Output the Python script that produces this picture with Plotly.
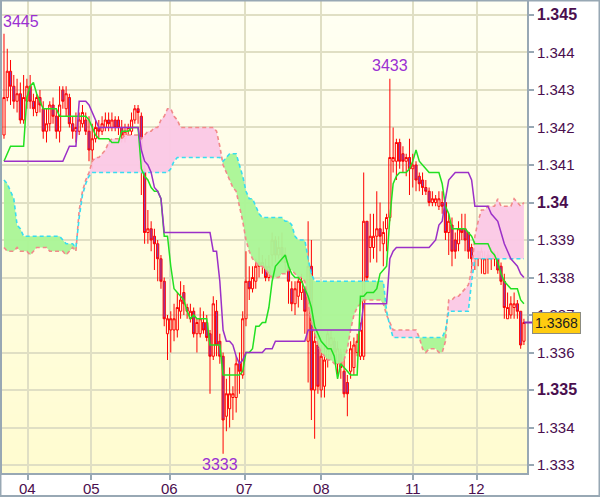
import plotly.graph_objects as go

# ---------------- data (hourly candles, index 0..159) ----------------
opens = [1.3418, 1.3428, 1.3435, 1.3431, 1.3427, 1.3429, 1.3422, 1.3427, 1.3431, 1.3427,
         1.3424, 1.3428, 1.3425, 1.3419, 1.3421, 1.3426, 1.3423, 1.3419, 1.3430, 1.3425,
         1.3428, 1.3421, 1.3419, 1.3419, 1.3421, 1.3422, 1.3419, 1.3414, 1.3417, 1.3420,
         1.3419, 1.3420, 1.3422, 1.3420, 1.3422, 1.3422, 1.3420, 1.3417, 1.3419, 1.3419,
         1.3422, 1.3425, 1.3423, 1.3409, 1.3392, 1.3393, 1.3391, 1.3389, 1.3385, 1.3379,
         1.3365, 1.3366, 1.3366, 1.3366, 1.3371, 1.3376, 1.3372, 1.3369, 1.3371, 1.3365,
         1.3365, 1.3368, 1.3368, 1.3365, 1.3359, 1.3371, 1.3363, 1.3359, 1.3343, 1.3345,
         1.3348, 1.3348, 1.3357, 1.3354, 1.3369, 1.3379, 1.3377, 1.3379, 1.3384, 1.3383,
         1.3383, 1.3380, 1.3386, 1.3390, 1.3386, 1.3388, 1.3386, 1.3383, 1.3377, 1.3373,
         1.3375, 1.3376, 1.3377, 1.3363, 1.3383, 1.3350, 1.3362, 1.3350, 1.3351, 1.3358,
         1.3362, 1.3363, 1.3357, 1.3360, 1.3355, 1.3352, 1.3355, 1.3356, 1.3360, 1.3359,
         1.3359, 1.3395, 1.3388, 1.3388, 1.3391, 1.3393, 1.3389, 1.3393, 1.3396, 1.3411,
         1.3411, 1.3416, 1.3413, 1.3411, 1.3412, 1.3409, 1.3410, 1.3407, 1.3406, 1.3404,
         1.3403, 1.3400, 1.3400, 1.3399, 1.3400, 1.3400, 1.3392, 1.3394, 1.3390, 1.3389,
         1.3393, 1.3393, 1.3392, 1.3388, 1.3385, 1.3387, 1.3385, 1.3381, 1.3386, 1.3385,
         1.3386, 1.3385, 1.3383, 1.3379, 1.3369, 1.3370, 1.3372, 1.3373, 1.3371, 1.3363]

highs = [1.3445, 1.3441, 1.3438, 1.3434, 1.3433, 1.3432, 1.3434, 1.3433, 1.3434, 1.3429,
         1.3429, 1.3430, 1.3427, 1.3425, 1.3427, 1.3428, 1.3425, 1.3431, 1.3431, 1.3431,
         1.3429, 1.3423, 1.3424, 1.3424, 1.3426, 1.3424, 1.3423, 1.3421, 1.3422, 1.3422,
         1.3423, 1.3424, 1.3424, 1.3424, 1.3423, 1.3423, 1.3422, 1.3421, 1.3421, 1.3424,
         1.3426, 1.3426, 1.3424, 1.3410, 1.3398, 1.3395, 1.3393, 1.3390, 1.3386, 1.3380,
         1.3370, 1.3371, 1.3373, 1.3376, 1.3379, 1.3378, 1.3373, 1.3373, 1.3372, 1.3369,
         1.3372, 1.3371, 1.3370, 1.3366, 1.3375, 1.3374, 1.3365, 1.3360, 1.3353, 1.3356,
         1.3351, 1.3359, 1.3360, 1.3371, 1.3387, 1.3383, 1.3383, 1.3385, 1.3388, 1.3386,
         1.3385, 1.3386, 1.3392, 1.3391, 1.3391, 1.3392, 1.3388, 1.3384, 1.3379, 1.3379,
         1.3380, 1.3381, 1.3377, 1.3395, 1.3390, 1.3367, 1.3364, 1.3362, 1.3362, 1.3366,
         1.3366, 1.3364, 1.3363, 1.3361, 1.3361, 1.3354, 1.3363, 1.3364, 1.3365, 1.3368,
         1.3408, 1.3395, 1.3397, 1.3397, 1.3403, 1.3400, 1.3395, 1.3397, 1.3433, 1.3420,
         1.3417, 1.3417, 1.3415, 1.3413, 1.3417, 1.3413, 1.3411, 1.3408, 1.3408, 1.3406,
         1.3404, 1.3403, 1.3402, 1.3403, 1.3403, 1.3400, 1.3397, 1.3396, 1.3392, 1.3395,
         1.3397, 1.3397, 1.3392, 1.3389, 1.3388, 1.3387, 1.3388, 1.3387, 1.3387, 1.3388,
         1.3387, 1.3387, 1.3384, 1.3381, 1.3376, 1.3375, 1.3376, 1.3374, 1.3371, 1.3369]

lows = [1.3417, 1.3427, 1.3426, 1.3425, 1.3424, 1.3421, 1.3421, 1.3425, 1.3425, 1.3423,
        1.3423, 1.3424, 1.3417, 1.3416, 1.3419, 1.3421, 1.3417, 1.3416, 1.3425, 1.3423,
        1.3420, 1.3417, 1.3416, 1.3418, 1.3420, 1.3418, 1.3411, 1.3409, 1.3416, 1.3417,
        1.3418, 1.3419, 1.3419, 1.3419, 1.3419, 1.3418, 1.3416, 1.3416, 1.3418, 1.3418,
        1.3421, 1.3421, 1.3402, 1.3389, 1.3389, 1.3387, 1.3382, 1.3379, 1.3377, 1.3367,
        1.3358, 1.3360, 1.3363, 1.3364, 1.3369, 1.3370, 1.3369, 1.3368, 1.3364, 1.3360,
        1.3364, 1.3365, 1.3363, 1.3349, 1.3358, 1.3359, 1.3357, 1.3333, 1.3339, 1.3340,
        1.3342, 1.3344, 1.3349, 1.3353, 1.3367, 1.3374, 1.3376, 1.3377, 1.3380, 1.3381,
        1.3379, 1.3379, 1.3383, 1.3384, 1.3385, 1.3384, 1.3382, 1.3373, 1.3371, 1.3370,
        1.3372, 1.3374, 1.3365, 1.3352, 1.3342, 1.3337, 1.3349, 1.3348, 1.3348, 1.3356,
        1.3358, 1.3358, 1.3353, 1.3353, 1.3348, 1.3343, 1.3353, 1.3354, 1.3359, 1.3358,
        1.3358, 1.3379, 1.3384, 1.3385, 1.3384, 1.3387, 1.3383, 1.3387, 1.3395, 1.3408,
        1.3406, 1.3409, 1.3408, 1.3407, 1.3402, 1.3404, 1.3403, 1.3403, 1.3402, 1.3402,
        1.3399, 1.3399, 1.3399, 1.3398, 1.3397, 1.3390, 1.3386, 1.3383, 1.3385, 1.3387,
        1.3390, 1.3387, 1.3385, 1.3382, 1.3382, 1.3383, 1.3381, 1.3381, 1.3381, 1.3382,
        1.3383, 1.3381, 1.3378, 1.3369, 1.3369, 1.3369, 1.3369, 1.3369, 1.3361, 1.3362]

closes = [1.3428, 1.3435, 1.3431, 1.3427, 1.3429, 1.3422, 1.3428, 1.3431, 1.3427, 1.3425,
          1.3428, 1.3426, 1.3419, 1.3421, 1.3426, 1.3423, 1.3419, 1.3426, 1.3427, 1.3429,
          1.3421, 1.3419, 1.3420, 1.3422, 1.3424, 1.3419, 1.3414, 1.3417, 1.3420, 1.3419,
          1.3421, 1.3422, 1.3421, 1.3422, 1.3420, 1.3420, 1.3418, 1.3419, 1.3420, 1.3422,
          1.3425, 1.3424, 1.3409, 1.3392, 1.3393, 1.3390, 1.3389, 1.3385, 1.3379, 1.3369,
          1.3369, 1.3369, 1.3369, 1.3372, 1.3374, 1.3373, 1.3371, 1.3371, 1.3365, 1.3368,
          1.3369, 1.3366, 1.3364, 1.3359, 1.3373, 1.3362, 1.3359, 1.3342, 1.3349, 1.3349,
          1.3349, 1.3357, 1.3355, 1.3369, 1.3379, 1.3377, 1.3380, 1.3383, 1.3383, 1.3384,
          1.3380, 1.3383, 1.3390, 1.3386, 1.3388, 1.3386, 1.3384, 1.3379, 1.3373, 1.3377,
          1.3379, 1.3379, 1.3371, 1.3383, 1.3350, 1.3363, 1.3351, 1.3359, 1.3358, 1.3365,
          1.3364, 1.3360, 1.3361, 1.3356, 1.3349, 1.3349, 1.3361, 1.3362, 1.3363, 1.3366,
          1.3395, 1.3380, 1.3391, 1.3391, 1.3393, 1.3391, 1.3392, 1.3396, 1.3412, 1.3412,
          1.3416, 1.3411, 1.3411, 1.3412, 1.3409, 1.3410, 1.3406, 1.3405, 1.3404, 1.3403,
          1.3400, 1.3401, 1.3401, 1.3401, 1.3399, 1.3392, 1.3395, 1.3387, 1.3387, 1.3393,
          1.3392, 1.3390, 1.3387, 1.3385, 1.3386, 1.3385, 1.3387, 1.3385, 1.3385, 1.3386,
          1.3385, 1.3382, 1.3379, 1.3372, 1.3372, 1.3373, 1.3373, 1.3371, 1.3362, 1.3368]

tenkan = [1.3411, 1.3413, 1.3415, 1.3415, 1.3415, 1.3415, 1.3415, 1.3428, 1.3431, 1.3432,
          1.3429, 1.3427, 1.3425, 1.3425, 1.3425, 1.3425, 1.3425, 1.3423, 1.3423, 1.3423,
          1.3423, 1.3423, 1.3423, 1.3423, 1.3423, 1.3423, 1.3422, 1.3420, 1.3418, 1.3417,
          1.3417, 1.3417, 1.3417, 1.3416, 1.3416, 1.3416, 1.3419, 1.3419, 1.3419, 1.3420,
          1.3420, 1.3420, 1.3409, 1.3407, 1.3406, 1.3404, 1.3403, 1.3403, 1.3401, 1.3391,
          1.3391, 1.3383, 1.3377, 1.3376, 1.3375, 1.3374, 1.3371, 1.3369, 1.3370, 1.3369,
          1.3369, 1.3369, 1.3369, 1.3362, 1.3362, 1.3362, 1.3362, 1.3354, 1.3354, 1.3354,
          1.3354, 1.3354, 1.3354, 1.3355, 1.3360, 1.3360, 1.3361, 1.3367, 1.3367, 1.3368,
          1.3368, 1.3372, 1.3379, 1.3383, 1.3384, 1.3385, 1.3386, 1.3383, 1.3381, 1.3380,
          1.3380, 1.3379, 1.3377, 1.3375, 1.3372, 1.3367, 1.3365, 1.3363, 1.3362, 1.3361,
          1.3361, 1.3359, 1.3353, 1.3357, 1.3356, 1.3355, 1.3354, 1.3354, 1.3354, 1.3375,
          1.3375, 1.3376, 1.3376, 1.3376, 1.3377, 1.3381, 1.3382, 1.3383, 1.3396, 1.3405,
          1.3407, 1.3408, 1.3408, 1.3408, 1.3409, 1.3411, 1.3414, 1.3411, 1.3410, 1.3409,
          1.3408, 1.3408, 1.3408, 1.3408, 1.3405, 1.3399, 1.3397, 1.3393, 1.3393, 1.3393,
          1.3393, 1.3393, 1.3392, 1.3391, 1.3389, 1.3389, 1.3389, 1.3389, 1.3389, 1.3387,
          1.3386, 1.3384, 1.3381, 1.3379, 1.3378, 1.3377, 1.3377, 1.3377, 1.3374, 1.3373]

kijun = [1.3411, 1.3411, 1.3411, 1.3411, 1.3411, 1.3411, 1.3411, 1.3411, 1.3411, 1.3411,
         1.3411, 1.3411, 1.3411, 1.3411, 1.3411, 1.3411, 1.3411, 1.3411, 1.3411, 1.3413,
         1.3415, 1.3415, 1.3415, 1.3427, 1.3427, 1.3427, 1.3426, 1.3424, 1.3422, 1.3420,
         1.3420, 1.3420, 1.3420, 1.3420, 1.3420, 1.3420, 1.3420, 1.3420, 1.3420, 1.3420,
         1.3420, 1.3420, 1.3414, 1.3411, 1.3410, 1.3408, 1.3404, 1.3403, 1.3401, 1.3392,
         1.3392, 1.3392, 1.3392, 1.3392, 1.3392, 1.3392, 1.3392, 1.3392, 1.3392, 1.3392,
         1.3392, 1.3392, 1.3392, 1.3392, 1.3387, 1.3387, 1.3379, 1.3366, 1.3363, 1.3363,
         1.3362, 1.3359, 1.3357, 1.3358, 1.3360, 1.3360, 1.3360, 1.3360, 1.3360, 1.3360,
         1.3361, 1.3361, 1.3361, 1.3363, 1.3363, 1.3363, 1.3363, 1.3363, 1.3363, 1.3363,
         1.3363, 1.3363, 1.3363, 1.3366, 1.3366, 1.3366, 1.3366, 1.3366, 1.3366, 1.3366,
         1.3366, 1.3366, 1.3366, 1.3366, 1.3366, 1.3366, 1.3366, 1.3366, 1.3366, 1.3366,
         1.3373, 1.3373, 1.3373, 1.3373, 1.3373, 1.3373, 1.3373, 1.3373, 1.3385, 1.3387,
         1.3388, 1.3388, 1.3388, 1.3388, 1.3388, 1.3388, 1.3388, 1.3388, 1.3388, 1.3388,
         1.3388, 1.3389, 1.3390, 1.3394, 1.3395, 1.3401, 1.3406, 1.3407, 1.3408, 1.3408,
         1.3408, 1.3408, 1.3408, 1.3406, 1.3399, 1.3399, 1.3399, 1.3399, 1.3399, 1.3397,
         1.3396, 1.3395, 1.3392, 1.3389, 1.3387, 1.3385, 1.3384, 1.3383, 1.3381, 1.3380]

span_a = [1.3406, 1.3405, 1.3403, 1.3401, 1.3394, 1.3393, 1.3391, 1.3391, 1.3391, 1.3391,
          1.3391, 1.3391, 1.3391, 1.3391, 1.3391, 1.3391, 1.3391, 1.3391, 1.3390, 1.3389,
          1.3389, 1.3389, 1.3388, 1.3396, 1.3402, 1.3405, 1.3407, 1.3408, 1.3408, 1.3408,
          1.3408, 1.3408, 1.3408, 1.3408, 1.3408, 1.3408, 1.3408, 1.3408, 1.3408, 1.3408,
          1.3408, 1.3408, 1.3408, 1.3408, 1.3408, 1.3408, 1.3408, 1.3408, 1.3408, 1.3408,
          1.3408, 1.3409, 1.3411, 1.3412, 1.3412, 1.3412, 1.3412, 1.3412, 1.3412, 1.3412,
          1.3412, 1.3412, 1.3412, 1.3412, 1.3412, 1.3412, 1.3412, 1.3411, 1.3412, 1.3413,
          1.3413, 1.3413, 1.3410, 1.3407, 1.3403, 1.3401, 1.3401, 1.3399, 1.3397, 1.3396,
          1.3396, 1.3396, 1.3396, 1.3396, 1.3396, 1.3396, 1.3395, 1.3395, 1.3394, 1.3391,
          1.3390, 1.3390, 1.3390, 1.3385, 1.3381, 1.3379, 1.3379, 1.3379, 1.3379, 1.3379,
          1.3379, 1.3379, 1.3379, 1.3379, 1.3379, 1.3379, 1.3379, 1.3379, 1.3379, 1.3379,
          1.3379, 1.3379, 1.3379, 1.3379, 1.3379, 1.3379, 1.3379, 1.3371, 1.3367, 1.3364,
          1.3364, 1.3364, 1.3364, 1.3364, 1.3364, 1.3364, 1.3364, 1.3364, 1.3364, 1.3364,
          1.3364, 1.3364, 1.3364, 1.3364, 1.3364, 1.3366, 1.3371, 1.3371, 1.3371, 1.3371,
          1.3371, 1.3371, 1.3371, 1.3379, 1.3385, 1.3385, 1.3385, 1.3385, 1.3385, 1.3385,
          1.3385, 1.3385, 1.3385, 1.3385, 1.3385, 1.3385, 1.3385, 1.3385, 1.3385, 1.3385]

span_b = [1.3388, 1.3387, 1.3387, 1.3387, 1.3388, 1.3387, 1.3387, 1.3387, 1.3386, 1.3387,
          1.3388, 1.3388, 1.3388, 1.3388, 1.3387, 1.3387, 1.3387, 1.3387, 1.3387, 1.3386,
          1.3387, 1.3388, 1.3387, 1.3398, 1.3403, 1.3406, 1.3408, 1.3411, 1.3412, 1.3412,
          1.3413, 1.3414, 1.3416, 1.3417, 1.3417, 1.3417, 1.3417, 1.3418, 1.3418, 1.3418,
          1.3418, 1.3418, 1.3417, 1.3418, 1.3419, 1.3419, 1.3420, 1.3420, 1.3422, 1.3423,
          1.3425, 1.3425, 1.3423, 1.3422, 1.3420, 1.3420, 1.3420, 1.3420, 1.3420, 1.3420,
          1.3420, 1.3420, 1.3420, 1.3420, 1.3420, 1.3419, 1.3415, 1.3410, 1.3408, 1.3406,
          1.3404, 1.3403, 1.3399, 1.3395, 1.3390, 1.3387, 1.3385, 1.3384, 1.3383, 1.3383,
          1.3382, 1.3381, 1.3380, 1.3380, 1.3380, 1.3381, 1.3381, 1.3382, 1.3382, 1.3381,
          1.3380, 1.3380, 1.3379, 1.3373, 1.3368, 1.3365, 1.3362, 1.3360, 1.3359, 1.3358,
          1.3358, 1.3357, 1.3357, 1.3357, 1.3358, 1.3361, 1.3366, 1.3370, 1.3372, 1.3373,
          1.3374, 1.3374, 1.3374, 1.3374, 1.3374, 1.3374, 1.3373, 1.3370, 1.3368, 1.3366,
          1.3366, 1.3366, 1.3366, 1.3366, 1.3366, 1.3366, 1.3366, 1.3364, 1.3361, 1.3360,
          1.3361, 1.3361, 1.3361, 1.3360, 1.3360, 1.3363, 1.3374, 1.3374, 1.3375, 1.3375,
          1.3376, 1.3377, 1.3378, 1.3382, 1.3391, 1.3395, 1.3398, 1.3398, 1.3399, 1.3399,
          1.3399, 1.3401, 1.3399, 1.3399, 1.3399, 1.3399, 1.3401, 1.3400, 1.3399, 1.3400]

day_labels = ["04", "05", "06", "07", "08", "11", "12"]
day_pos = [7.3, 26.7, 50.7, 73.6, 97.0, 125.0, 144.5]

price_ticks = [1.333, 1.334, 1.335, 1.336, 1.337, 1.338, 1.339, 1.340,
               1.341, 1.342, 1.343, 1.344, 1.345]
BIG = "<span style='font-size:16px'><b>%s</b></span>"
price_labels = ["1.333", "1.334", BIG % "1.335", "1.336", "1.337", "1.338", "1.339",
                BIG % "1.34", "1.341", "1.342", "1.343", "1.344", BIG % "1.345"]

last_price = 1.3368
high_label, high_idx, high_val = "3445", 0, 1.3445
high2_label, high2_idx, high2_val = "3433", 118, 1.3433
low_label, low_idx, low_val = "3333", 67, 1.3333

# ---------------- styling ----------------
AX = "#98A8B4"
GRID = "#E0DFC4"
TXT = "#4A0E4E"
MARK = "#9A30D2"
FONT = "Liberation Sans, Arial, sans-serif"
GREEN_FILL = "rgba(170,245,150,0.95)"
PINK_FILL = "rgba(251,200,230,0.95)"

idx = list(range(len(opens)))
fig = go.Figure()


def cloud_segments(x, a, b):
    segs = []
    cx, ca, cb = [x[0]], [a[0]], [b[0]]
    up = a[0] >= b[0]
    for k in range(1, len(x)):
        s = a[k] >= b[k]
        if s != up:
            d0 = a[k - 1] - b[k - 1]
            d1 = a[k] - b[k]
            t = d0 / (d0 - d1)
            xi = x[k - 1] + t * (x[k] - x[k - 1])
            yi = a[k - 1] + t * (a[k] - a[k - 1])
            cx.append(xi); ca.append(yi); cb.append(yi)
            segs.append((cx, ca, cb, up))
            cx, ca, cb = [xi], [yi], [yi]
            up = s
        cx.append(x[k]); ca.append(a[k]); cb.append(b[k])
    segs.append((cx, ca, cb, up))
    return segs


for sx, sa, sb, up in cloud_segments(idx, span_a, span_b):
    fig.add_trace(go.Scatter(x=sx + sx[::-1], y=sa + sb[::-1], mode="lines",
                             fill="toself", fillcolor=GREEN_FILL if up else PINK_FILL,
                             line=dict(width=0), hoverinfo="skip", showlegend=False))

fig.add_trace(go.Scatter(x=idx, y=span_b, mode="lines",
                         line=dict(color="#F28A8A", width=1.6, dash="4px,3px"),
                         hoverinfo="skip", showlegend=False))
fig.add_trace(go.Scatter(x=idx, y=span_a, mode="lines",
                         line=dict(color="#38DDF0", width=1.6, dash="4px,3px"),
                         hoverinfo="skip", showlegend=False))

fig.add_trace(go.Candlestick(
    x=idx, open=opens, high=highs, low=lows, close=closes,
    increasing=dict(line=dict(color="#FF0000", width=1), fillcolor="rgba(0,0,0,0)"),
    decreasing=dict(line=dict(color="#FF0000", width=1), fillcolor="#8A3CB4"),
    whiskerwidth=0, hoverinfo="skip", showlegend=False))

fig.add_trace(go.Scatter(x=idx, y=tenkan, mode="lines",
                         line=dict(color="#22E022", width=1.5),
                         hoverinfo="skip", showlegend=False))
fig.add_trace(go.Scatter(x=idx, y=kijun, mode="lines",
                         line=dict(color="#9B30C8", width=1.5),
                         hoverinfo="skip", showlegend=False))

# background gradient bands (below grid)
shapes = []
nb = 40
top_c = (255, 255, 243)
bot_c = (255, 252, 208)
for k in range(nb):
    t = (k + 0.5) / nb
    c = tuple(round(bot_c[j] + (top_c[j] - bot_c[j]) * t) for j in range(3))
    shapes.append(dict(type="rect", xref="paper", yref="paper", x0=0, x1=1,
                       y0=k / nb, y1=(k + 1) / nb + 0.002, layer="below",
                       line=dict(width=0), fillcolor="rgb(%d,%d,%d)" % c))
# outer frame
shapes.append(dict(type="rect", xref="paper", yref="paper",
                   x0=-0.0029, x1=1.1381, y0=-0.0487, y1=1.0011,
                   line=dict(color=AX, width=2), fillcolor="rgba(0,0,0,0)"))
# price pointer
shapes.append(dict(type="line", xref="paper", yref="y", x0=0.994, x1=1.0095,
                   y0=last_price, y1=last_price, line=dict(color="#8A2CB0", width=2)))

annotations = [
    dict(text=high_label, x=high_idx, y=high_val, xref="x", yref="y",
         xanchor="left", yanchor="bottom", xshift=-3, yshift=2, showarrow=False,
         font=dict(family=FONT, size=16, color=MARK)),
    dict(text=high2_label, x=high2_idx, y=high2_val, xref="x", yref="y",
         xanchor="center", yanchor="bottom", yshift=3, showarrow=False,
         font=dict(family=FONT, size=16, color=MARK)),
    dict(text=low_label, x=low_idx, y=0, xref="x", yref="paper",
         xanchor="center", yanchor="bottom", xshift=-3, yshift=-2, showarrow=False,
         font=dict(family=FONT, size=16, color=MARK)),
    dict(text=str(last_price), x=1.0095, y=last_price, xref="paper", yref="y",
         xanchor="left", yanchor="middle", showarrow=False,
         bgcolor="#FFCC10", bordercolor="#8C8C80", borderwidth=1, borderpad=2,
         font=dict(family=FONT, size=14, color="#202020")),
]
# day labels under the x axis
for pos, lab in zip(day_pos, day_labels):
    annotations.append(dict(text=lab, x=pos, y=0, xref="x", yref="paper",
                            xanchor="center", yanchor="top", yshift=-5,
                            showarrow=False,
                            font=dict(family=FONT, size=15, color=TXT)))

fig.update_layout(
    width=600, height=497,
    margin=dict(l=2, r=73, t=1, b=24, autoexpand=False),
    paper_bgcolor="white", plot_bgcolor="rgba(0,0,0,0)",
    showlegend=False, hovermode=False, boxgap=0.05,
    shapes=shapes, annotations=annotations,
    font=dict(family=FONT, color=TXT),
    xaxis=dict(range=[-0.61, 159.94], tickmode="array", tickvals=day_pos,
               ticktext=day_labels, showticklabels=False,
               showgrid=True, gridcolor=GRID, gridwidth=1.5,
               ticks="outside", ticklen=5, tickcolor=AX, tickwidth=1.5,
               showline=True, linecolor=AX, linewidth=2, mirror=True,
               zeroline=False, rangeslider=dict(visible=False), fixedrange=True,
               automargin=False),
    yaxis=dict(side="right", range=[1.332787, 1.345373], tickmode="array",
               tickvals=price_ticks, ticktext=price_labels,
               showgrid=True, gridcolor=GRID, gridwidth=1.5,
               ticks="outside", ticklen=5, tickcolor=AX, tickwidth=1.5,
               showline=True, linecolor=AX, linewidth=2, mirror=True,
               zeroline=False, fixedrange=True, automargin=False,
               tickfont=dict(family=FONT, size=15, color=TXT)),
)

fig.write_html("out.html", config={"displayModeBar": False},
               post_script="document.body.style.margin='0';")
